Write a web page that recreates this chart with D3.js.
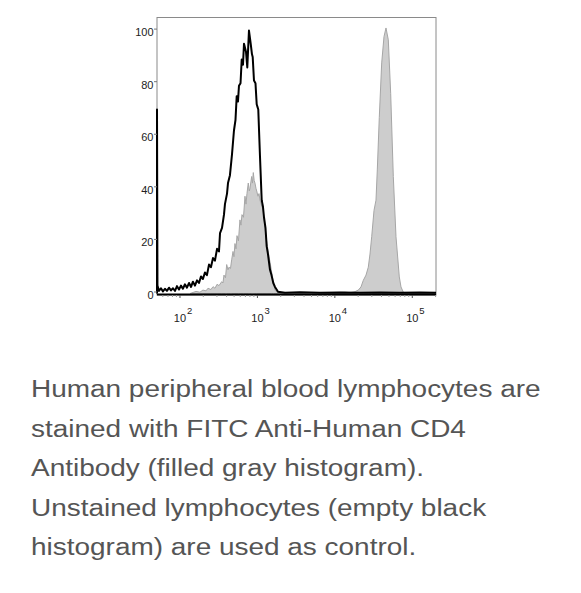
<!DOCTYPE html>
<html>
<head>
<meta charset="utf-8">
<script src="https://cdn.jsdelivr.net/npm/d3@7"></script>
<style>
  html, body { margin: 0; padding: 0; background: #fff; }
  svg { display: block; }
</style>
</head>
<body>
<svg id="chart" width="581" height="593"></svg>
<script>
// ---------- data ----------
// Unstained control (black outline) : fluorescence intensity and % of max
const unstainedX = [50.5, 50.5, 51.2, 53.6, 56.8, 60.3, 64.0, 67.9, 72.1, 76.5, 81.2, 86.2, 91.5, 97.1, 103, 109, 116, 123, 131, 139, 147, 156, 166, 176, 187, 198, 210, 223, 237, 251, 267, 283, 301, 319, 329, 349, 370, 381, 405, 417, 442, 470, 498, 521, 540, 561, 578, 605, 627, 651, 671, 712, 740, 778, 819, 851, 869, 903, 944, 979, 1002, 1026, 1080, 1136, 1180, 1216, 1271, 1317, 1369, 1454, 1520, 1603, 1687, 1844, 2271, 3546, 6429, 11650, 21120, 38280, 69380, 125800, 202400];
const unstainedY = [0, 70, 3, 1, 2, 0.8, 1.8, 1, 2.2, 1.2, 2, 1, 2.8, 1.5, 3, 1.8, 3.5, 2.2, 4, 2.5, 4.5, 3, 5, 4, 6.5, 5.5, 8, 7, 11, 10, 13.5, 12.5, 17, 16, 23, 25, 30, 34, 38, 42, 45, 53, 62, 66, 75, 73, 79, 80, 89, 87, 95, 92, 86, 100, 95, 91, 90, 81, 80, 72, 71, 70, 52, 35.5, 33, 29, 25, 18, 15, 9, 7, 4, 2.5, 0.7, 0.3, 0.5, 0.3, 0.4, 0.3, 0.4, 0.3, 0.4, 0.3];

// FITC Anti-Human CD4 stained (filled gray)
const stainedX = [135, 161, 181, 198, 217, 230, 251, 267, 283, 301, 319, 346, 359, 370, 387, 401, 417, 429, 449, 465, 484, 498, 513, 529, 545, 569, 595, 613, 632, 661, 691, 712, 733, 762, 785, 802, 843, 864, 885, 908, 930, 958, 979, 1017, 1048, 1080, 1146, 1180, 1216, 1253, 1291, 1329, 1369, 1411, 1454, 1529, 1613, 1687, 1790, 2271, 3546, 6429, 10040, 13520, 15690, 18200, 20080, 21760, 23300, 25250, 27030, 28430, 29910, 32030, 33990, 35330, 37490, 40270, 43120, 45760, 49000, 52630, 56860, 61610, 67970, 71470, 76550, 82940, 202400];
const stainedY = [0, 0.8, 0.5, 1.3, 1, 2, 1.5, 2.6, 2, 3.5, 3, 4.5, 4, 7, 6, 11, 9, 10, 9.5, 12.8, 16, 14, 19, 17, 22, 20, 28, 26, 30, 29, 37, 34, 38, 42, 39, 40, 44.5, 42, 46, 43, 42, 40, 39, 37, 38, 35.5, 33, 32, 29, 25, 22, 19, 16.5, 14, 12, 8, 4, 1.3, 0.5, 0.2, 0.3, 0.2, 0.4, 0.5, 0.3, 0.7, 1.3, 2.5, 5, 7, 10, 15, 21.6, 31.6, 35.5, 47, 67, 87.7, 97.7, 101, 96.5, 76, 44.5, 21.6, 6.3, 2.5, 0.5, 0, 0];

const yTicks = [0, 20, 40, 60, 80, 100];
const xMajorTicks = [100, 1000, 10000, 100000];
const xTickExponents = ["2", "3", "4", "5"];

const captionLines = [
  "Human peripheral blood lymphocytes are",
  "stained with FITC Anti-Human CD4",
  "Antibody (filled gray histogram).",
  "Unstained lymphocytes (empty black",
  "histogram) are used as control."
];

// ---------- layout ----------
const svg = d3.select("#chart");
const plot = { left: 157, right: 436, top: 17.5, bottom: 295 };

const x = d3.scaleLog().domain([50.5, 202400]).range([plot.left, plot.right]);
const y = d3.scaleLinear().domain([0, 100]).range([293.5, 30.6]);

svg.append("rect").attr("width", 581).attr("height", 593).attr("fill", "#fff");

// frame
svg.append("rect")
  .attr("x", plot.left).attr("y", plot.top)
  .attr("width", plot.right - plot.left).attr("height", plot.bottom - plot.top)
  .attr("fill", "none").attr("stroke", "#8a8a8a").attr("stroke-width", 1);

// stained filled histogram
const stained = stainedX.map((v, i) => [v, stainedY[i]]);
const area = d3.area()
  .x(d => x(d[0]))
  .y0(y(0))
  .y1(d => y(d[1]));
svg.append("path")
  .datum(stained)
  .attr("d", area)
  .attr("fill", "#cdcdcd")
  .attr("stroke", "#a6a6a6")
  .attr("stroke-width", 1)
  .attr("stroke-linejoin", "round");

// bottom axis line
svg.append("line")
  .attr("x1", plot.left).attr("x2", plot.right)
  .attr("y1", 294.6).attr("y2", 294.6)
  .attr("stroke", "#000").attr("stroke-width", 2);

// unstained outline histogram
const unstained = unstainedX.map((v, i) => [v, unstainedY[i]]);
const line = d3.line()
  .x(d => x(d[0]))
  .y(d => y(d[1]));
svg.append("path")
  .datum(unstained)
  .attr("d", line)
  .attr("fill", "none")
  .attr("stroke", "#000")
  .attr("stroke-width", 2)
  .attr("stroke-linejoin", "round");

// x axis ticks
const xAxisG = svg.append("g").attr("transform", `translate(0,${plot.bottom})`);
const minorTicks = [];
for (let e = 1; e <= 5; e++) {
  for (let m = 2; m <= 9; m++) {
    const v = m * Math.pow(10, e);
    if (v >= x.domain()[0] && v <= x.domain()[1]) minorTicks.push(v);
  }
}
xAxisG.selectAll("line.minor").data(minorTicks).enter().append("line")
  .attr("x1", d => x(d)).attr("x2", d => x(d))
  .attr("y1", 0).attr("y2", 2)
  .attr("stroke", "#999").attr("stroke-width", 1);
xAxisG.selectAll("line.major").data(xMajorTicks).enter().append("line")
  .attr("x1", d => x(d)).attr("x2", d => x(d))
  .attr("y1", 0).attr("y2", 3)
  .attr("stroke", "#555").attr("stroke-width", 1);

const xl = svg.append("g")
  .attr("font-family", "'Liberation Sans', Arial, Helvetica, sans-serif")
  .attr("fill", "#222");
xMajorTicks.forEach((v, i) => {
  const t = xl.append("text")
    .attr("x", x(v)).attr("y", 322)
    .attr("text-anchor", "middle")
    .attr("font-size", 11)
    .text("10");
  xl.append("text")
    .attr("x", x(v) + 7).attr("y", 314)
    .attr("font-size", 9.5)
    .text(xTickExponents[i]);
});

// y axis ticks & labels
const yl = svg.append("g")
  .attr("font-family", "'Liberation Sans', Arial, Helvetica, sans-serif")
  .attr("fill", "#222");
yTicks.forEach(v => {
  yl.append("line")
    .attr("x1", plot.left - 3).attr("x2", plot.left)
    .attr("y1", y(v) - 1.5).attr("y2", y(v) - 1.5)
    .attr("stroke", "#777").attr("stroke-width", 1);
  yl.append("text")
    .attr("x", plot.left - 3.5)
    .attr("y", y(v) + 5.5)
    .attr("text-anchor", "end")
    .attr("font-size", 11)
    .text(v);
});

// caption
const cap = svg.append("g")
  .attr("font-family", "'Liberation Sans', Arial, Helvetica, sans-serif")
  .attr("font-size", 23.5)
  .attr("fill", "#555");
captionLines.forEach((t, i) => {
  cap.append("text")
    .attr("transform", `translate(31,${397 + i * 39.5}) scale(1.19,1)`)
    .text(t);
});
</script>
</body>
</html>
